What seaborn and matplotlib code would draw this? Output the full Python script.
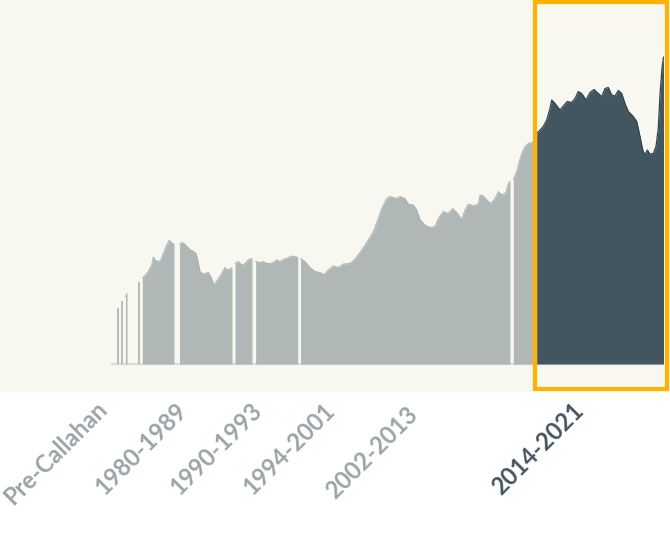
import numpy as np
import pandas as pd
import seaborn as sns
import matplotlib
matplotlib.use("Agg")
import matplotlib.pyplot as plt
from matplotlib.patches import Rectangle

sns.set_theme(style="white")
plt.rcParams['font.family'] = ['Lato', 'DejaVu Sans']

# ---- data (thousands; x = position index along the timeline) ----
bars_x = [7.5, 12.0, 28.5]
bars_v = [11.2, 12.7, 16.5]

w_x = [15.5, 17.0]
w_v = [13.5, 14.1]

a_x = [32.3, 33.3, 38.3, 41.7, 43.3, 45, 48.3, 50.7, 53.3, 56.7, 59.3, 61, 64]
a_v = [17.3, 17.3, 18.5, 19.8, 21.4, 20.8, 20.5, 20.7, 22.1, 23.8, 24.8, 24.3, 24.0]

b_x = [69.5, 71.7, 74, 76.7, 80, 83.3, 86, 87.7, 90, 93.3, 95, 98.3, 100.7, 104,
       108.3, 111.7, 115, 117.3, 120.7, 122]
b_v = [23.9, 24.3, 24.1, 23.5, 22.9, 22.5, 22.1, 20.8, 18.5, 18.0, 18.1, 18.3, 17.5,
       15.8, 17.1, 18.1, 19.3, 18.8, 19.1, 19.3]

c_x = [125, 128.3, 131.7, 135, 138.3, 142]
c_v = [20.1, 20.5, 19.8, 20.1, 20.9, 21.1]

d_x = [145.6, 150, 153.3, 156.7, 160, 163.3, 166.7, 170, 173.3, 178.3, 182.7, 187.7]
d_v = [20.5, 20.3, 20.5, 20.1, 20.1, 20.3, 20.8, 20.5, 20.9, 21.3, 21.6, 21.3]

e_x = [190.5, 195, 200, 205, 210, 214, 218.3, 223.3, 228.3, 233.3, 240, 245, 251.7,
       258.3, 263.3, 267.3, 271.7, 276.7, 280, 286, 290, 295, 298.3, 303.3, 306.7, 310,
       315, 320, 325, 328.3, 333.3, 338.3, 342.7, 346.7, 351.7, 355, 358.3, 363.3,
       368.3, 370, 373.3, 377.3, 380.7, 385, 388.3, 391.7, 396, 398.3, 400]
e_v = [21.1, 20.5, 19.3, 18.5, 18.3, 17.9, 18.8, 19.6, 19.3, 20.0, 20.1, 21.0, 22.8,
       24.8, 26.5, 28.5, 31.1, 33.1, 33.5, 33.1, 33.5, 33.1, 32.0, 31.8, 30.8, 28.9,
       27.8, 27.3, 27.5, 29.1, 30.5, 30.1, 31.1, 30.3, 28.9, 30.8, 32.0, 31.6, 32.0,
       33.8, 33.6, 32.7, 32.1, 33.1, 34.5, 33.8, 34.3, 36.1, 36.5]

f_x = [403.3, 406.7, 409.3, 411.7, 415, 418.3, 421.7, 424]
f_v = [36.9, 38.5, 40.5, 42.1, 43.5, 44.1, 44.3, 44.5]

g_x = [426.7, 430, 433.3, 436.7, 440, 441.7, 445, 450, 453.3, 457.3, 461.7, 465,
       468.3, 471.7, 476, 480, 484, 488.3, 491.7, 495, 498.3, 501.7, 505, 508.3,
       511.7, 515, 518.3, 523.3, 526.7, 530, 532.7, 535, 537.3, 540, 543.3, 546,
       548.3, 550, 552, 553.5]
g_v = [46.1, 46.8, 47.5, 48.8, 51.1, 52.8, 52.1, 50.8, 51.6, 52.5, 52.3, 53.1, 54.5,
       54.1, 52.8, 54.3, 54.9, 54.1, 53.5, 55.1, 55.3, 53.8, 53.6, 54.7, 54.1, 52.1,
       50.5, 49.5, 48.5, 45.5, 42.8, 41.8, 42.8, 42.0, 42.1, 43.5, 47.2, 53.8, 59.2,
       61.4]

labels = ["Pre-Callahan", "1980-1989", "1990-1993", "1994-2001", "2002-2013", "2014-2021"]
label_pos = [(13, 506), (104, 496), (179, 496), (252, 496), (335, 500), (501, 496)]

GREY = "#b0b8b7"
GREY_EDGE = "#aab3b2"
DARK = "#43555e"
DARK_EDGE = "#34454e"
CREAM = "#f8f7f0"
ORANGE = "#ffb300"

W, H = 670, 537
fig = plt.figure(figsize=(W / 100, H / 100), dpi=100, facecolor="white")

# cream backdrop
fig.patches.append(Rectangle((0, (H - 392) / H), 1, 392 / H, transform=fig.transFigure,
                             facecolor=CREAM, edgecolor="none", zorder=-5))

ax = fig.add_axes([110 / W, (H - 364) / H, 560 / W, 364 / H])
ax.set_facecolor("none")
ax.set_xlim(0, 560)
ax.set_ylim(0, 72.8)
ax.axis("off")

# baseline
ax.plot([1, 553.5], [0, 0], color="#dddcd4", lw=1.6, zorder=1, solid_capstyle="butt",
        clip_on=False)

grey_segments = [(w_x, w_v), (a_x, a_v), (b_x, b_v), (c_x, c_v), (d_x, d_v), (e_x, e_v), (f_x, f_v)]
for xs, vs in grey_segments:
    df = pd.DataFrame({"x": xs, "v": vs})
    ax.fill_between(df["x"], 0, df["v"], color=GREY, lw=0, zorder=2)
    sns.lineplot(data=df, x="x", y="v", ax=ax, color=GREY_EDGE, lw=0.7, zorder=3,
                 estimator=None, sort=False)

ax.vlines(bars_x, 0, bars_v, color=GREY, lw=1.3, zorder=2)

dfg = pd.DataFrame({"x": g_x, "v": g_v})
ax.fill_between(dfg["x"], 0, dfg["v"], color=DARK, lw=0, zorder=2)
sns.lineplot(data=dfg, x="x", y="v", ax=ax, color=DARK_EDGE, lw=0.9, zorder=3,
             estimator=None, sort=False)

# highlight frame
fig.patches.append(Rectangle((535 / W, (H - 389) / H), 132 / W, 387 / H,
                             transform=fig.transFigure, facecolor="none",
                             edgecolor=ORANGE, lw=3.0, zorder=5))

for lab, (px, py) in zip(labels, label_pos):
    col = DARK if lab == "2014-2021" else "#9aa5a8"
    fig.text(px / W, (H - py) / H, lab, rotation=45, rotation_mode="anchor",
             ha="left", va="baseline", fontsize=17, fontweight="bold", color=col)

fig.savefig("out.png", dpi=100, facecolor="white")
